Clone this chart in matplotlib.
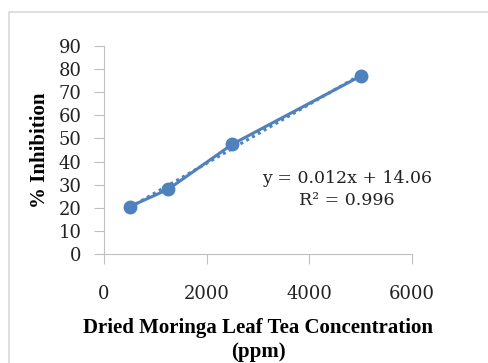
import matplotlib
matplotlib.use("Agg")
import matplotlib.pyplot as plt
from matplotlib.patches import Rectangle
import numpy as np

# data
concentration = [500, 1250, 2500, 5000]
inhibition = [20.5, 28.0, 47.5, 77.0]
eq_text = "y = 0.012x + 14.06\nR² = 0.996"

blue = "#4F81BD"
grey = "#BFBFBF"
plt.rcParams["font.family"] = ["DejaVu Serif"]

fig = plt.figure(figsize=(4.88, 3.63), dpi=100)
fig.patches.append(Rectangle((9 / 488, -0.1), 1.0, 1.1 - 12 / 363,
                             transform=fig.transFigure, fill=False,
                             edgecolor="#D9D9D9", linewidth=1.2))
ax = fig.add_axes([104 / 488, 1 - 254 / 363, 308 / 488, 208 / 363])

# linear trendline (dotted)
slope, intercept = np.polyfit(concentration, inhibition, 1)
xs = np.array([min(concentration), max(concentration)])
ax.plot(xs, slope * xs + intercept, color=blue, linestyle=(0, (1, 1.2)),
        linewidth=2.2, zorder=2)
ax.plot(concentration, inhibition, color=blue, linewidth=2.2, marker="o",
        markersize=9, zorder=3)

ax.text(4730, 28.0, eq_text, ha="center", va="center", fontsize=12.5,
        linespacing=1.35, color="#222222")

ax.set_xlim(0, 6000)
ax.set_ylim(0, 90)
ax.set_xticks([0, 2000, 4000, 6000])
ax.set_yticks(range(0, 91, 10))
for s in ["top", "right"]:
    ax.spines[s].set_visible(False)
for s in ["left", "bottom"]:
    ax.spines[s].set_color(grey)
ax.tick_params(axis="x", length=7, color=grey, pad=15, labelsize=13,
               labelcolor="#222222")
ax.tick_params(axis="y", length=7, color=grey, pad=9, labelsize=13,
               labelcolor="#222222")

bold = dict(family=["Liberation Serif"], fontsize=15, fontweight="bold")
ax.set_ylabel("% Inhibition", labelpad=6, **bold)
ax.set_xlabel("Dried Moringa Leaf Tea Concentration\n(ppm)", labelpad=11,
              linespacing=1.3, **bold)

fig.savefig("out.png", dpi=100)
